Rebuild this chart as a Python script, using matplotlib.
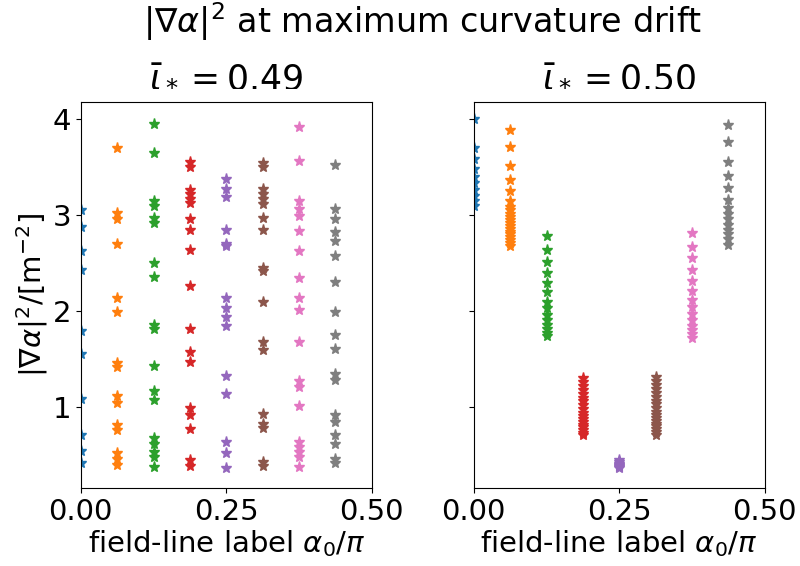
import numpy as np
import matplotlib
matplotlib.use('Agg')
import matplotlib.pyplot as plt

# field-line labels alpha_0/pi (one column per label)
alpha_labels = [0.0, 0.0625, 0.125, 0.1875, 0.25, 0.3125, 0.375, 0.4375]

# |grad alpha|^2 at max curvature drift, iota = 0.49
grad_049 = [
    [3.05, 2.88, 2.63, 2.43, 1.79, 1.55, 1.09, 0.71, 0.54, 0.42],
    [3.70, 3.02, 2.96, 2.70, 2.14, 1.99, 1.46, 1.42, 1.12, 1.04, 0.81, 0.76, 0.52, 0.46, 0.40],
    [3.95, 3.65, 3.15, 3.10, 2.97, 2.92, 2.50, 2.36, 1.86, 1.81, 1.43, 1.17, 1.08, 0.68,
     0.62, 0.53, 0.48, 0.38],
    [3.55, 3.50, 3.26, 3.22, 3.17, 3.13, 2.96, 2.85, 2.64, 2.26, 1.81, 1.58, 1.47, 0.99,
     0.92, 0.77, 0.45, 0.39],
    [3.38, 3.27, 3.19, 2.85, 2.70, 2.68, 2.14, 2.03, 1.94, 1.85, 1.33, 1.14, 0.64, 0.52, 0.37],
    [3.54, 3.50, 3.27, 3.22, 3.17, 3.12, 2.97, 2.85, 2.45, 2.42, 2.10, 1.68, 1.60, 0.93,
     0.83, 0.78, 0.43, 0.39],
    [3.92, 3.56, 3.15, 3.06, 2.99, 2.84, 2.63, 2.35, 2.14, 2.01, 1.68, 1.27, 1.21, 1.01,
     0.64, 0.59, 0.53, 0.48, 0.38],
    [3.52, 3.06, 2.96, 2.82, 2.73, 2.58, 2.30, 1.99, 1.75, 1.61, 1.35, 1.28, 0.92, 0.85,
     0.71, 0.62, 0.46, 0.42],
]

# |grad alpha|^2 at max curvature drift, iota = 0.50
grad_050 = [
    [4.00, 3.70, 3.58, 3.48, 3.40, 3.33, 3.26, 3.20, 3.15, 3.10],
    [3.89, 3.71, 3.51, 3.37, 3.25, 3.15, 3.09, 3.05, 3.01, 2.98, 2.95, 2.92, 2.89, 2.86,
     2.83, 2.80, 2.77, 2.74, 2.71, 2.68],
    [2.78, 2.64, 2.51, 2.40, 2.29, 2.20, 2.10, 2.03, 1.96, 1.91, 1.86, 1.81, 1.77, 1.74],
    [1.30, 1.26, 1.22, 1.18, 1.14, 1.10, 1.06, 1.02, 0.98, 0.94, 0.91, 0.88, 0.85, 0.82,
     0.79, 0.76, 0.73, 0.71],
    [0.45, 0.43, 0.41, 0.40, 0.39, 0.38, 0.37],
    [1.31, 1.27, 1.23, 1.19, 1.15, 1.11, 1.07, 1.03, 0.99, 0.95, 0.92, 0.89, 0.86, 0.83,
     0.80, 0.77, 0.74, 0.71],
    [2.81, 2.67, 2.55, 2.43, 2.31, 2.21, 2.12, 2.04, 1.97, 1.91, 1.85, 1.80, 1.76, 1.72],
    [3.94, 3.76, 3.55, 3.41, 3.28, 3.16, 3.08, 3.01, 2.96, 2.90, 2.85, 2.80, 2.75, 2.69],
]

iotas = [0.49, 0.50]

fig, axes = plt.subplots(1, 2, figsize=(8, 5.66), dpi=100, sharey=True)
fig.subplots_adjust(left=0.101, right=0.956, bottom=0.138, top=0.820, wspace=0.35)

for ax, data, iota in zip(axes, [grad_049, grad_050], iotas):
    for i, vals in enumerate(data):
        ax.plot(np.full(len(vals), alpha_labels[i]), vals, '*', color=f'C{i}',
                markersize=8, linestyle='none')
    ax.set_xlim(0, 0.5)
    ax.set_xticks([0.0, 0.25, 0.5])
    ax.set_xticklabels(['0.00', '0.25', '0.50'])
    ax.set_title(r'$\bar{\iota}_* = %.2f$' % iota, fontsize=25, pad=12)
    ax.set_xlabel(r'field-line label $\alpha_0/\pi$', fontsize=21, labelpad=2)
    ax.tick_params(labelsize=21)

axes[0].set_ylim(0.16, 4.18)
axes[0].set_yticks([1, 2, 3, 4])
axes[0].set_ylabel(r'$|\nabla\alpha|^2/[\mathrm{m}^{-2}]$', fontsize=21, labelpad=2)
fig.suptitle(r'$|\nabla\alpha|^2$ at maximum curvature drift', fontsize=24,
             x=0.528, y=1.0)

plt.savefig('out.png')
